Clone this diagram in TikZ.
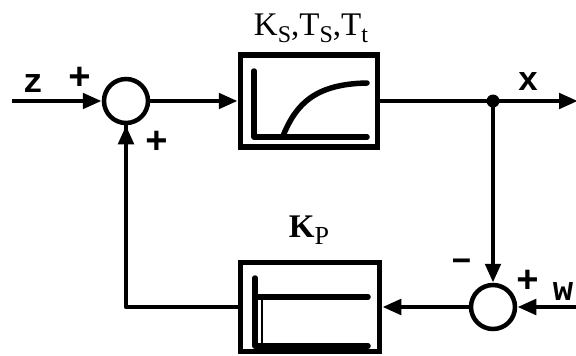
\documentclass[tikz,border=0pt]{standalone}
\usepackage{fontspec}
\setmainfont{Liberation Serif}
\setmonofont{Liberation Mono}
\usetikzlibrary{arrows.meta}
\begin{document}
\begin{tikzpicture}[x=1pt,y=-1pt,
  wire/.style={line width=4.8pt},
  arr/.style={wire,-{Triangle[length=19pt,width=15pt]}},
  sumnode/.style={circle,draw,line width=4.5pt,minimum size=44pt,inner sep=0pt},
  blk/.style={draw,line width=5.5pt,inner sep=0pt},
  curvel/.style={line width=5.5pt,line cap=round},
  sgn/.style={font=\fontsize{38}{38}\selectfont\ttfamily\bfseries,inner sep=0pt},
  lbl/.style={font=\fontsize{34}{34}\selectfont\ttfamily\bfseries,inner sep=0pt},
  big/.style={font=\fontsize{33}{33}\selectfont,inner sep=0pt}]
\useasboundingbox (0,0) rectangle (576,356);
% nodes
\node[sumnode] (s1) at (126,101) {};
\node[sumnode] (s2) at (493,307) {};
\node[blk,minimum width=137pt,minimum height=92pt] (b1) at (309,101) {};
\node[blk,minimum width=139pt,minimum height=89pt] (b2) at (310,307) {};
\coordinate (zin) at (12,101);
\coordinate (xout) at (578,101);
\coordinate (win) at (578,307);
\coordinate (j) at (493,101);
\coordinate (fb) at (126,307);
% connectors
\draw[arr] (zin) -- (s1.west);
\draw[arr] (s1.east) -- (b1.west);
\draw[arr] (b1.east) -- (xout);
\fill (j) circle (6.5pt);
\draw[arr] (j) -- (s2.north);
\draw[arr] (win) -- (s2.east);
\draw[arr] (s2.west) -- (b2.east);
\draw[wire,line join=round] (b2.west) -- (fb) -- (s1.south);
\draw[arr] (fb) -- (s1.south);
% block 1 inner graph
\draw[curvel,line join=round] (254,71) -- (254,137) -- (367,137);
\draw[curvel] (283,136) .. controls (296,104) and (315,84) .. (367,83);
% block 2 inner graph
\draw[curvel,line join=round] (255,278) -- (255,346) -- (368,346);
\draw[line width=2.5pt] (262,346) -- (262,297);
\draw[curvel] (258,297) -- (368,297);
% labels
\node[big] (lk) at (311,28) {K\raisebox{-0.22em}{\fontsize{24}{24}\selectfont S},T\raisebox{-0.22em}{\fontsize{24}{24}\selectfont S},T\raisebox{-0.22em}{\fontsize{24}{24}\selectfont t}};
\node[big] (lp) at (309,230) {\textbf{K}\raisebox{-0.22em}{\fontsize{26}{26}\selectfont P}};
\node[lbl] (lz) at (33,84) {z};
\node[sgn] (p1) at (80,78) {+};
\node[sgn] (p2) at (157,142) {+};
\node[lbl] (lx) at (528,82) {x};
\node[sgn] (m1) at (462,265) {\textendash};
\node[sgn] (p3) at (528,281) {+};
\node[lbl] (lw) at (563,292) {w};
\end{tikzpicture}
\end{document}
